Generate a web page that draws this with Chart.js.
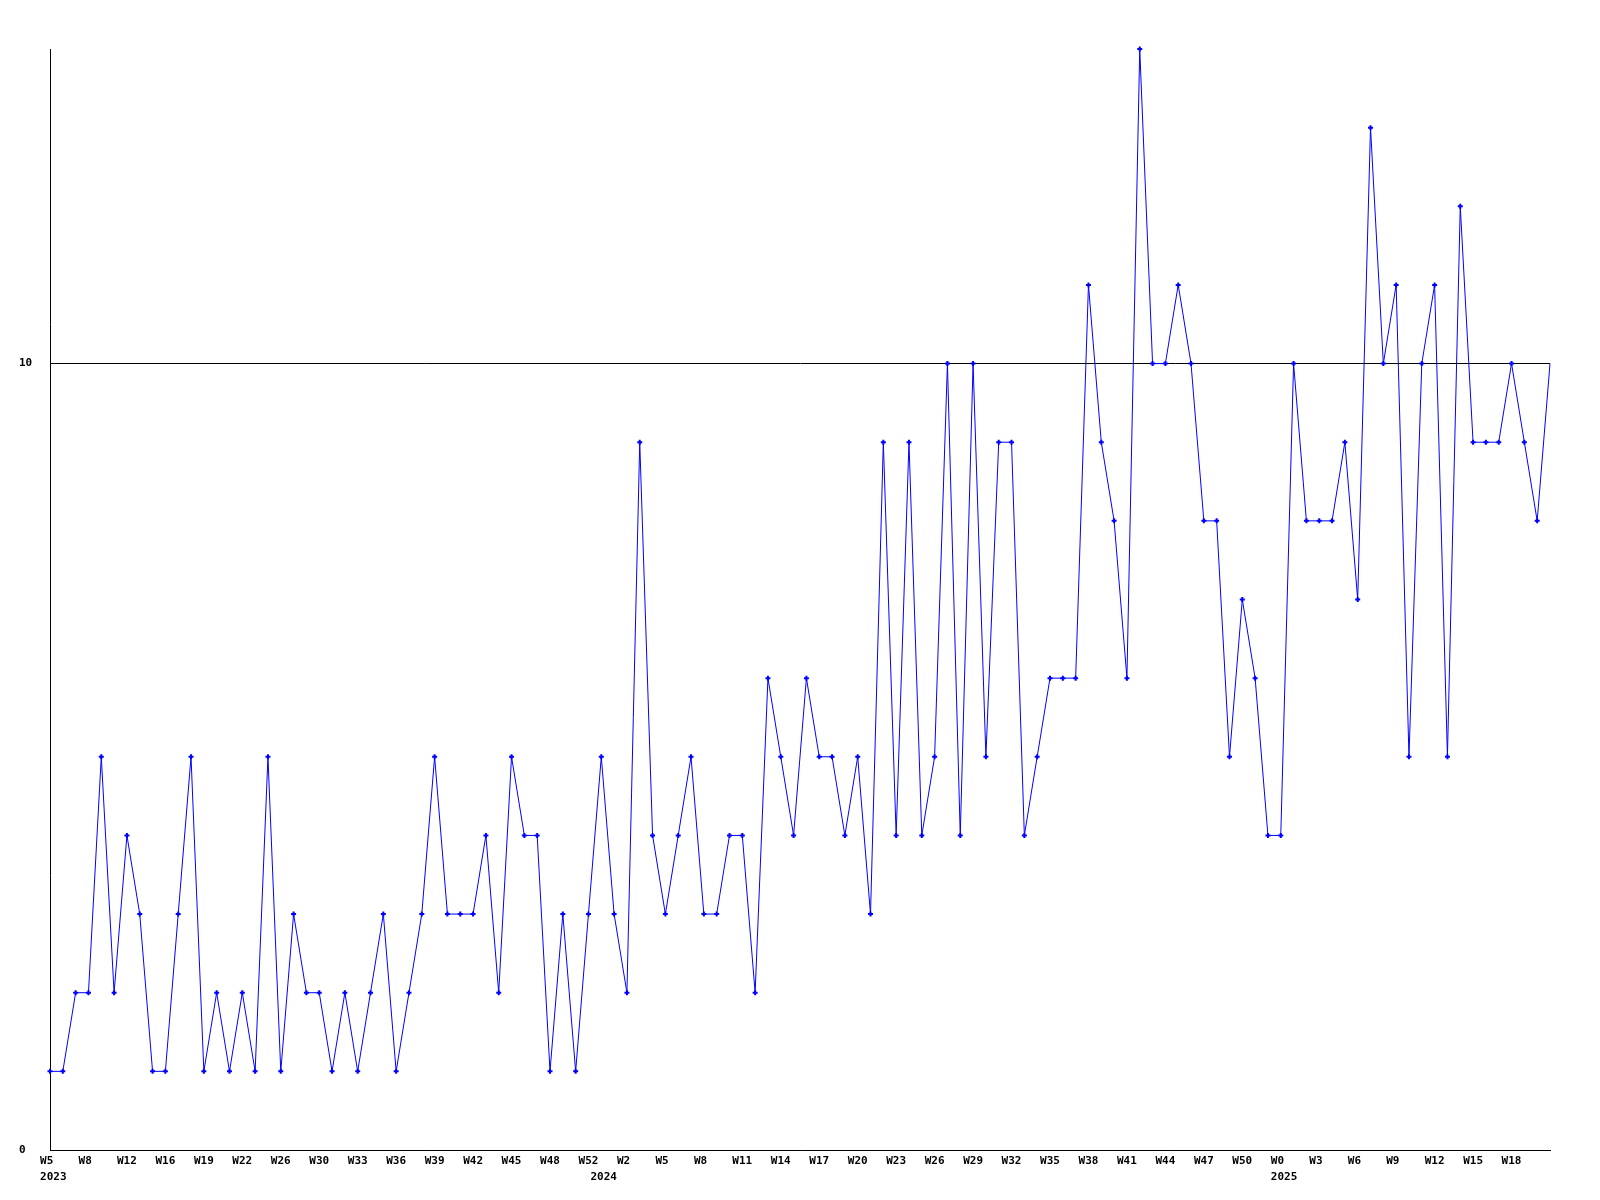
<!DOCTYPE html>
<html>
<head>
<meta charset="utf-8">
<script src="https://cdn.jsdelivr.net/npm/chart.js@4"></script>
<style>
    html, body { margin: 0; padding: 0; background: #fff; }
    canvas { display: block; }
</style>
</head>
<body>
<canvas id="chart" width="1600" height="1200"></canvas>
<script>
// Weekly counts, one per week
const weeklyValues = [
    1, 1, 2, 2, 5, 2, 4, 3, 1, 1, 3, 5, 1, 2, 1, 2, 1, 5, 1, 3,
    2, 2, 1, 2, 1, 2, 3, 1, 2, 3, 5, 3, 3, 3, 4, 2, 5, 4, 4, 1,
    3, 1, 3, 5, 3, 2, 9, 4, 3, 4, 5, 3, 3, 4, 4, 2, 6, 5, 4, 6,
    5, 5, 4, 5, 3, 9, 4, 9, 4, 5, 10, 4, 10, 5, 9, 9, 4, 5, 6, 6,
    6, 11, 9, 8, 6, 14, 10, 10, 11, 10, 8, 8, 5, 7, 6, 4, 4, 10, 8, 8,
    8, 9, 7, 13, 10, 11, 5, 10, 11, 5, 12, 9, 9, 9, 10, 9, 8, 10
];

// Tick labels, one every third week
const weekTicks = [
    'W5', 'W8', 'W12', 'W16', 'W19', 'W22', 'W26', 'W30', 'W33', 'W36',
    'W39', 'W42', 'W45', 'W48', 'W52', 'W2', 'W5', 'W8', 'W11', 'W14',
    'W17', 'W20', 'W23', 'W26', 'W29', 'W32', 'W35', 'W38', 'W41', 'W44',
    'W47', 'W50', 'W0', 'W3', 'W6', 'W9', 'W12', 'W15', 'W18'
];
// Year written under the tick where a year starts
const yearTicks = { 0: '2023', 15: '2024', 32: '2025' };

const yTicks = [0, 10];
const tickStep = 3;

const tickFont = { family: 'DejaVu Sans Mono', size: 11, weight: 'bold', lineHeight: 1.45 };

const categories = weeklyValues.map((v, i) => String(i));
const lastIndex = weeklyValues.length - 1;

// labels in the original sit left-aligned a little before the tick;
// with a monospace font, padding the strings gives the same look
function weekText(k) {
    return weekTicks[k].padEnd(3, ' ');
}
function yearText(k) {
    const y = yearTicks[k];
    // 2024 starts mid-week, so its year label sits further left
    return k === 15 ? y.padEnd(11, ' ') : ' ' + y;
}

new Chart(document.getElementById('chart'), {
    type: 'line',
    data: {
        labels: categories,
        datasets: [{
            data: weeklyValues,
            borderColor: '#0000ff',
            backgroundColor: '#0000ff',
            borderWidth: 1,
            tension: 0,
            fill: false,
            clip: false,
            pointStyle: 'cross',
            pointRadius: ctx => ctx.dataIndex === lastIndex ? 0 : 2.5,
            pointBorderWidth: 2,
            pointBorderColor: '#0000ff',
            pointHoverRadius: 2.5
        }]
    },
    options: {
        responsive: false,
        animation: false,
        events: [],
        layout: { padding: { left: 19, top: 49, right: 50, bottom: 0 } },
        plugins: {
            legend: { display: false },
            tooltip: { enabled: false }
        },
        scales: {
            x: {
                offset: false,
                grid: { display: false, drawTicks: false },
                border: { display: true, color: '#000', width: 1 },
                ticks: {
                    autoSkip: false,
                    maxRotation: 0,
                    minRotation: 0,
                    padding: 3,
                    color: '#000',
                    font: tickFont,
                    callback: (value, index) => {
                        const k = index / tickStep;
                        if (index % tickStep !== 0 || !weekTicks[k]) return '';
                        return yearTicks[k] ? [weekText(k), yearText(k)] : weekText(k);
                    }
                },
                afterFit: scale => { scale.height = 50; }
            },
            y: {
                min: 0,
                max: 14,
                grid: { color: '#000', lineWidth: 1, drawTicks: false },
                border: { display: true, color: '#000', width: 1 },
                ticks: {
                    color: '#000',
                    font: tickFont,
                    crossAlign: 'far',
                    padding: 0
                },
                afterBuildTicks: scale => { scale.ticks = yTicks.map(v => ({ value: v })); },
                afterFit: scale => { scale.width = 31; }
            }
        }
    }
});
</script>
</body>
</html>
